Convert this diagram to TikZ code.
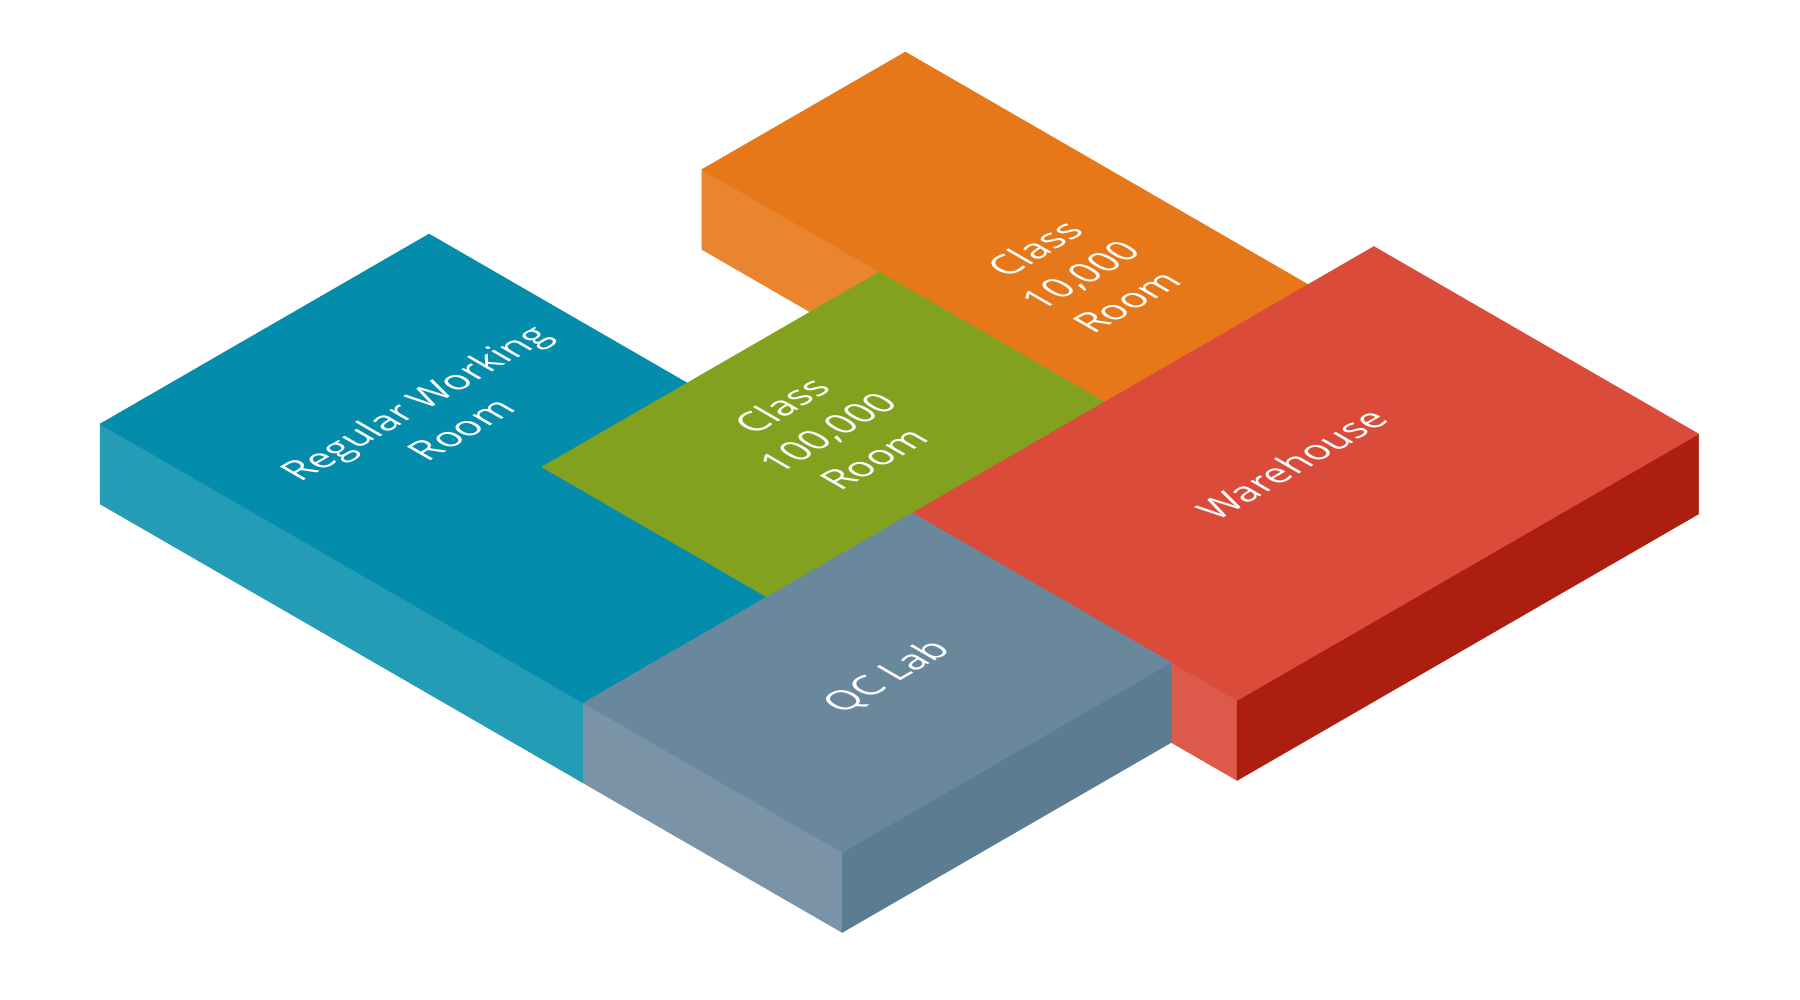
\documentclass[tikz,border=0pt]{standalone}
\usepackage{fontspec}
\setmainfont{Open Sans}
\definecolor{tealtop}{HTML}{038CAB}
\definecolor{tealside}{HTML}{249CB6}
\definecolor{orangetop}{HTML}{E6781A}
\definecolor{orangeside}{HTML}{E9852F}
\definecolor{greentop}{HTML}{82A21F}
\definecolor{redtop}{HTML}{DA4B3A}
\definecolor{redleft}{HTML}{DD5A4A}
\definecolor{redright}{HTML}{AC1F10}
\definecolor{qctop}{HTML}{6A889C}
\definecolor{qcleft}{HTML}{7A93A6}
\definecolor{qcright}{HTML}{5C7C92}
\begin{document}
\begin{tikzpicture}[x={(0.433pt,-0.25pt)}, y={(0.433pt,0.25pt)}, z={(0pt,0.5pt)},
	face/.style = {line width=0.2pt, line join=bevel},
	room/.style = {font=\fontsize{19pt}{26.5pt}\selectfont, text=white, align=center,
		inner sep=0pt, cm={0.866,0.5,-0.866,0.5,(0,0)}}]
\useasboundingbox (0pt,0pt) rectangle (900pt,500pt);
\begin{scope}[shift={(50pt,288pt)}]
% orange block
\filldraw[face, orangeside] (93,602,0) -- (558,602,0) -- (558,602,-80) -- (93,602,-80) -- cycle;
\filldraw[face, orangetop] (93,602,0) -- (558,602,0) -- (558,837,0) -- (93,837,0) -- cycle;
% teal block
\filldraw[face, tealside] (0,0,0) -- (558,0,0) -- (558,0,-80) -- (0,0,-80) -- cycle;
\filldraw[face, tealtop] (0,0,0) -- (558,0,0) -- (558,380,0) -- (0,380,0) -- cycle;
% green top
\filldraw[face, greentop] (298,212,0) -- (558,212,0) -- (558,602,0) -- (298,602,0) -- cycle;
% red block
\filldraw[face, redleft] (558,380,0) -- (933,380,0) -- (933,380,-80) -- (558,380,-80) -- cycle;
\filldraw[face, redright] (933,380,0) -- (933,913,0) -- (933,913,-80) -- (933,380,-80) -- cycle;
\filldraw[face, redtop] (558,380,0) -- (933,380,0) -- (933,913,0) -- (558,913,0) -- cycle;
% qc block
\filldraw[face, qcleft] (558,0,0) -- (857,0,0) -- (857,0,-80) -- (558,0,-80) -- cycle;
\filldraw[face, qcright] (857,0,0) -- (857,380,0) -- (857,380,-80) -- (857,0,-80) -- cycle;
\filldraw[face, qctop] (558,0,0) -- (857,0,0) -- (857,380,0) -- (558,380,0) -- cycle;
% labels
\node[room] (regular) at (187,203,0) {Regular Working\\Room};
\node[room] (class10k) at (417,715,0) {Class\\10,000\\Room};
\node[room] (class100k) at (428,412,0) {Class\\100,000\\Room};
\node[room] (warehouse) at (728,648,0) {Warehouse};
\node[room] (qclab) at (708,202,0) {QC Lab};
\end{scope}
\end{tikzpicture}
\end{document}
